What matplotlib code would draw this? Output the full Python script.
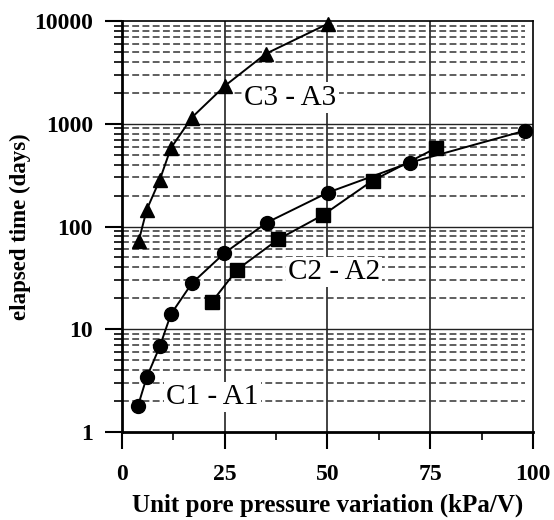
import numpy as np
import matplotlib.pyplot as plt
from matplotlib.ticker import FixedLocator, NullFormatter

# unit pore pressure variation (kPa/V) vs elapsed time (days)
c1_x = [3.9, 6.0, 9.2, 11.9, 17.0, 24.9, 35.2, 50.1, 70.0, 98.0]
c1_y = [1.8, 3.4, 6.8, 14, 28, 55, 109, 214, 418, 855]

c2_x = [21.9, 28.0, 38.0, 49.0, 61.0, 76.4]
c2_y = [18.5, 38, 75, 130, 280, 580]

c3_x = [4.1, 6.0, 9.2, 11.9, 17.0, 25.1, 35.0, 50.1]
c3_y = [73, 145, 285, 580, 1150, 2350, 4800, 9400]

x_ticks = [0, 25, 50, 75, 100]
y_ticks = [1, 10, 100, 1000, 10000]

plt.rcParams['font.family'] = ['Liberation Serif', 'DejaVu Serif']

fig = plt.figure(figsize=(5.54, 5.2), dpi=100)
ax = fig.add_axes([0.2202, 0.1692, 0.7418, 0.7904])

ax.set_yscale('log')
ax.set_xlim(0, 100)
ax.set_ylim(1, 10000)

# grid: solid decades / quarter lines, dashed minor decades
for yv in y_ticks[1:-1]:
    ax.axhline(yv, color='#222222', lw=1.0, zorder=1)
for xv in x_ticks[1:-1]:
    ax.axvline(xv, color='#222222', lw=1.2, zorder=1)
minor_y = [m * 10 ** d for d in range(4) for m in range(2, 10)]
for yv in minor_y:
    ax.plot([0, 98], [yv, yv], color='#333333', lw=1.1,
            linestyle=(0, (4.5, 2.2)), zorder=1)

kw = dict(color='black', lw=1.4, zorder=3, clip_on=False)
ax.plot(c1_x, c1_y, marker='o', ms=10, **kw)
ax.plot(c2_x, c2_y, marker='s', ms=10, **kw)
ax.plot(c3_x, c3_y, marker='^', ms=10, **kw)

box = dict(facecolor='white', edgecolor='none', pad=1.5)
ax.text(41.0, 1800, 'C3 - A3', fontsize=21, ha='center', va='center', bbox=box, zorder=2)
ax.text(51.5, 36, 'C2 - A2', fontsize=21, ha='center', va='center', bbox=box, zorder=2)
ax.text(22.0, 2.2, 'C1 - A1', fontsize=21, ha='center', va='center', bbox=box, zorder=2)

ax.xaxis.set_major_locator(FixedLocator(x_ticks))
ax.xaxis.set_minor_locator(FixedLocator([12.5, 37.5, 62.5, 87.5]))
ax.yaxis.set_major_locator(FixedLocator(y_ticks))
ax.yaxis.set_minor_locator(FixedLocator(minor_y))
ax.yaxis.set_minor_formatter(NullFormatter())
ax.set_yticklabels([str(v) for v in y_ticks])

ax.tick_params(which='major', direction='out', length=12, width=1.5,
               labelsize=17, pad=9)
ax.tick_params(axis='x', which='major', pad=11)
ax.tick_params(which='minor', direction='out', length=6, width=1.2)
for lab in ax.get_xticklabels() + ax.get_yticklabels():
    lab.set_fontweight('bold')

for side in ['left', 'bottom']:
    ax.spines[side].set_linewidth(2)
for side in ['top', 'right']:
    ax.spines[side].set_linewidth(1.2)

ax.set_xlabel('Unit pore pressure variation (kPa/V)', fontsize=18,
              fontweight='bold', labelpad=6)
ax.set_ylabel('elapsed time (days)', fontsize=16.5, fontweight='bold', labelpad=2)

fig.savefig('out.png', dpi=100)
